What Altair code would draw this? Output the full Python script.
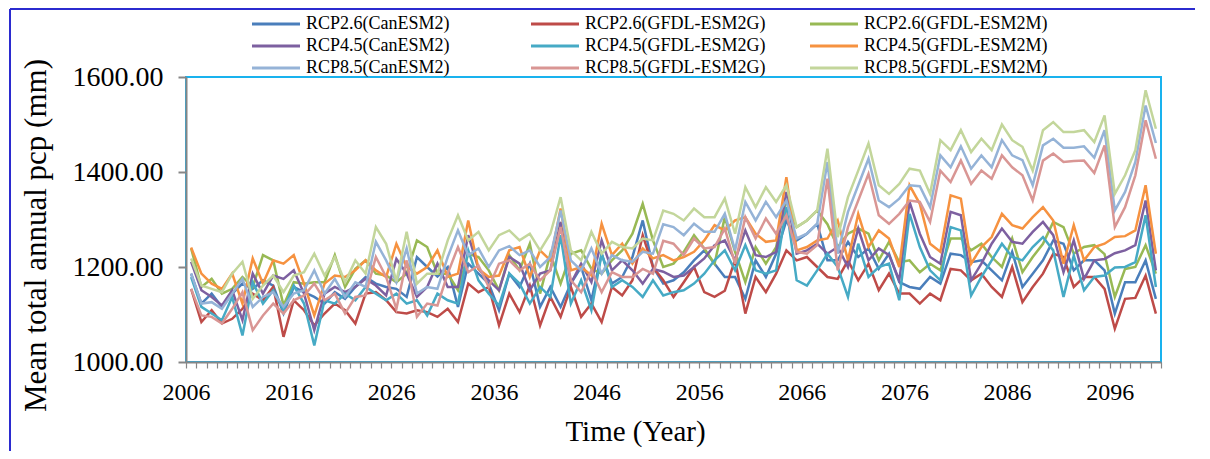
import altair as alt
import pandas as pd

years = list(range(2006, 2101))

series_names = [
    "RCP2.6(CanESM2)", "RCP2.6(GFDL-ESM2G)", "RCP2.6(GFDL-ESM2M)",
    "RCP4.5(CanESM2)", "RCP4.5(GFDL-ESM2G)", "RCP4.5(GFDL-ESM2M)",
    "RCP8.5(CanESM2)", "RCP8.5(GFDL-ESM2G)", "RCP8.5(GFDL-ESM2M)",
]
series_colors = [
    "#4A7EBB", "#BE4B48", "#98B954",
    "#7D60A0", "#46AAC5", "#F69240",
    "#95B3D7", "#D99694", "#C3D69B",
]

rcp26_canesm2 = [
    1186, 1123, 1144, 1116, 1144, 1165, 1154, 1172, 1161, 1102,
    1158, 1147, 1137, 1123, 1147, 1133, 1158, 1179, 1165, 1158,
    1154, 1137, 1221, 1200, 1180, 1200, 1116, 1207, 1186, 1165,
    1109, 1186, 1158, 1207, 1116, 1158, 1116, 1165, 1200, 1130,
    1228, 1165, 1179, 1221, 1298, 1200, 1165, 1172, 1189, 1214,
    1235, 1207, 1179, 1179, 1133, 1214, 1179, 1228, 1298, 1256,
    1270, 1291, 1214, 1214, 1253, 1221, 1239, 1196, 1228, 1168,
    1158, 1154, 1179, 1165, 1228, 1225, 1210, 1214, 1193, 1172,
    1232, 1158, 1186, 1214, 1256, 1249, 1193, 1214, 1214, 1193,
    1102, 1168, 1168, 1214, 1133,
]
rcp26_esm2g = [
    1154, 1084, 1109, 1081, 1091, 1112, 1144, 1130, 1158, 1053,
    1130, 1109, 1077, 1102, 1123, 1109, 1081, 1144, 1147, 1130,
    1105, 1102, 1109, 1105, 1095, 1112, 1084, 1165, 1147, 1158,
    1077, 1144, 1105, 1161, 1077, 1137, 1095, 1158, 1095, 1123,
    1084, 1158, 1140, 1172, 1267, 1200, 1172, 1137, 1168, 1200,
    1147, 1137, 1150, 1215, 1102, 1179, 1147, 1186, 1235, 1214,
    1221, 1200, 1179, 1175, 1214, 1172, 1207, 1151, 1186, 1144,
    1144, 1123, 1144, 1130, 1196, 1193, 1172, 1186, 1158, 1137,
    1200, 1126, 1158, 1186, 1228, 1221, 1158, 1179, 1179, 1154,
    1070, 1133, 1135, 1182, 1102,
]
rcp26_esm2m = [
    1239, 1158, 1175, 1144, 1154, 1179, 1158, 1225, 1214, 1119,
    1168, 1165, 1168, 1168, 1225, 1158, 1196, 1214, 1186, 1182,
    1168, 1186, 1256, 1242, 1186, 1186, 1151, 1228, 1221, 1193,
    1151, 1225, 1193, 1249, 1144, 1228, 1165, 1228, 1235, 1196,
    1186, 1214, 1235, 1270, 1333, 1256, 1200, 1207, 1232, 1267,
    1239, 1207, 1305, 1232, 1168, 1242, 1207, 1242, 1340, 1284,
    1298, 1319, 1290, 1242, 1270, 1281, 1270, 1214, 1253, 1210,
    1214, 1189, 1207, 1193, 1260, 1260, 1235, 1249, 1221, 1200,
    1260, 1189, 1221, 1249, 1295, 1284, 1228, 1242, 1246, 1227,
    1137, 1196, 1200, 1246, 1186,
]
rcp45_canesm2 = [
    1211, 1151, 1137, 1119, 1151, 1088, 1186, 1144, 1182, 1175,
    1193, 1144, 1067, 1144, 1158, 1147, 1158, 1175, 1161, 1140,
    1217, 1186, 1137, 1158, 1207, 1158, 1158, 1267, 1196, 1172,
    1151, 1221, 1207, 1151, 1186, 1193, 1295, 1165, 1207, 1168,
    1256, 1193, 1214, 1193, 1165, 1196, 1190, 1179, 1182, 1200,
    1218, 1246, 1256, 1214, 1277, 1225, 1221, 1232, 1358, 1228,
    1235, 1249, 1228, 1242, 1200, 1281, 1214, 1239, 1225, 1172,
    1337, 1270, 1221, 1207, 1316, 1309, 1172, 1207, 1249, 1281,
    1253, 1249, 1274, 1295, 1267, 1189, 1256, 1175, 1214, 1217,
    1229, 1235, 1246, 1340, 1193,
]
rcp45_esm2g = [
    1179, 1116, 1102, 1088, 1137, 1056, 1168, 1123, 1151, 1109,
    1161, 1123, 1035, 1130, 1123, 1144, 1130, 1158, 1144, 1130,
    1144, 1123, 1130, 1098, 1144, 1130, 1123, 1235, 1172, 1144,
    1119, 1186, 1165, 1123, 1158, 1137, 1267, 1123, 1172, 1109,
    1228, 1158, 1172, 1158, 1137, 1172, 1140, 1147, 1151, 1165,
    1186, 1214, 1235, 1193, 1246, 1193, 1186, 1193, 1326, 1172,
    1161, 1193, 1228, 1200, 1137, 1249, 1179, 1200, 1207, 1130,
    1312, 1242, 1193, 1172, 1284, 1277, 1140, 1179, 1214, 1249,
    1221, 1214, 1242, 1263, 1235, 1137, 1224, 1151, 1179, 1182,
    1199, 1200, 1210, 1309, 1158,
]
rcp45_esm2m = [
    1241, 1186, 1165, 1154, 1186, 1123, 1218, 1165, 1214, 1207,
    1225, 1165, 1098, 1165, 1182, 1179, 1193, 1214, 1193, 1179,
    1249, 1200, 1186, 1200, 1235, 1179, 1186, 1298, 1196, 1179,
    1182, 1235, 1242, 1179, 1235, 1214, 1323, 1193, 1200, 1182,
    1291, 1225, 1249, 1207, 1239, 1218, 1225, 1214, 1221, 1232,
    1256, 1288, 1277, 1298, 1305, 1270, 1253, 1256, 1389, 1235,
    1242, 1256, 1260, 1298, 1214, 1312, 1242, 1277, 1260, 1200,
    1372, 1333, 1249, 1232, 1351, 1344, 1207, 1242, 1263, 1312,
    1288, 1281, 1305, 1326, 1298, 1207, 1288, 1214, 1242, 1249,
    1263, 1265, 1277, 1372, 1228,
]
rcp85_canesm2 = [
    1186, 1123, 1126, 1112, 1144, 1175, 1116, 1137, 1147, 1116,
    1144, 1151, 1193, 1144, 1175, 1137, 1168, 1158, 1253, 1214,
    1168, 1239, 1144, 1158, 1154, 1221, 1277, 1225, 1239, 1200,
    1235, 1244, 1225, 1235, 1200, 1221, 1319, 1214, 1193, 1239,
    1186, 1225, 1214, 1211, 1232, 1228, 1290, 1284, 1267, 1291,
    1274, 1274, 1312, 1235, 1337, 1298, 1337, 1305, 1340, 1260,
    1270, 1291, 1421, 1228, 1316, 1372, 1428, 1340, 1326, 1344,
    1372, 1370, 1326, 1435, 1410, 1454, 1407, 1435, 1410, 1467,
    1435, 1425, 1372, 1456, 1470, 1451, 1451, 1454, 1430, 1488,
    1319, 1358, 1421, 1540, 1461,
]
rcp85_esm2g = [
    1154, 1098, 1095, 1081, 1112, 1147, 1067, 1098, 1123, 1102,
    1130, 1140, 1165, 1130, 1144, 1102, 1137, 1140, 1221, 1179,
    1112, 1214, 1095, 1123, 1119, 1186, 1242, 1189, 1203, 1158,
    1207, 1214, 1193, 1207, 1172, 1193, 1284, 1172, 1147, 1193,
    1147, 1189, 1179, 1179, 1196, 1186, 1255, 1249, 1225, 1260,
    1239, 1242, 1281, 1207, 1305, 1260, 1302, 1270, 1309, 1232,
    1228, 1246, 1386, 1193, 1284, 1340, 1396, 1309, 1291, 1312,
    1340, 1337, 1295, 1403, 1379, 1424, 1375, 1403, 1386, 1435,
    1410, 1393, 1340, 1424, 1439, 1421, 1423, 1424, 1398, 1456,
    1284, 1326, 1393, 1509, 1428,
]
rcp85_esm2m = [
    1218, 1161, 1154, 1147, 1186, 1211, 1133, 1161, 1182, 1147,
    1182, 1189, 1228, 1182, 1221, 1168, 1214, 1186, 1284, 1249,
    1170, 1274, 1165, 1186, 1186, 1256, 1309, 1256, 1274, 1235,
    1267, 1277, 1256, 1270, 1235, 1270, 1347, 1235, 1214, 1274,
    1228, 1253, 1242, 1239, 1260, 1256, 1319, 1312, 1298, 1323,
    1305, 1305, 1344, 1270, 1368, 1326, 1368, 1337, 1372, 1284,
    1298, 1319, 1449, 1263, 1347, 1403, 1460, 1372, 1354, 1375,
    1407, 1403, 1354, 1467, 1446, 1488, 1442, 1470, 1446, 1500,
    1467, 1453, 1403, 1488, 1505, 1484, 1484, 1488, 1463, 1519,
    1354, 1393, 1446, 1572, 1491,
]

y_ticks = [1000, 1200, 1400, 1600]

all_series = [
    rcp26_canesm2, rcp26_esm2g, rcp26_esm2m,
    rcp45_canesm2, rcp45_esm2g, rcp45_esm2m,
    rcp85_canesm2, rcp85_esm2g, rcp85_esm2m,
]

rows = []
for k, (name, vals) in enumerate(zip(series_names, all_series)):
    for yr, v in zip(years, vals):
        rows.append({"Year": yr, "Series": name, "Value": v, "k": k})
df = pd.DataFrame(rows)

FONT = "Liberation Serif"
tick_positions = [y - 0.5 for y in years] + [years[-1] + 0.5]

lines = alt.Chart(df).mark_line(strokeWidth=2.5, clip=True).encode(
    x=alt.X(
        "Year:Q",
        scale=alt.Scale(domain=[years[0] - 0.5, years[-1] + 0.5], nice=False, zero=False),
        axis=alt.Axis(
            values=tick_positions,
            labelExpr="((datum.value + 0.5 - 2006) % 10 == 0) ? format(datum.value + 0.5, 'd') : ''",
            labelOffset=0,
            labelOverlap=False,
            labelFlush=False,
            labelBound=False,
            labelFontSize=24,
            tickSize=6,
            tickWidth=1.2,
            labelPadding=12,
            titlePadding=13,
            titleFontSize=29,
            titleX=449,
        ),
        title="Time (Year)",
    ),
    y=alt.Y(
        "Value:Q",
        scale=alt.Scale(domain=[1000, 1600], nice=False, zero=False),
        axis=alt.Axis(
            values=y_ticks,
            format=".2f",
            labelFontSize=28,
            tickSize=8,
            tickWidth=2,
            labelPadding=15,
            titleX=-150,
            titleY=158,
            titleAngle=-90,
            titleAlign="center",
            titleBaseline="middle",
            titleFontSize=31,
        ),
        title="Mean total annual pcp (mm)",
    ),
    color=alt.Color(
        "Series:N",
        scale=alt.Scale(domain=series_names, range=series_colors),
        legend=alt.Legend(
            orient="none",
            direction="horizontal",
            legendX=81,
            legendY=-62,
            columns=3,
            title=None,
            symbolType="M-4,0H4",
            symbolSize=144,
            symbolStrokeWidth=3,
            labelFont=FONT,
            labelFontSize=18,
            labelColor="black",
            labelOffset=21,
            labelLimit=400,
            gridAlign="all",
            columnPadding=35,
            rowPadding=4,
            padding=0,
        ),
    ),
    order=alt.Order("k:Q"),
)

frame_df = pd.DataFrame({"a": [0]})
frame_left = alt.Chart(frame_df).mark_rule(color="#2B2BCF", strokeWidth=2).encode(
    x=alt.value(-176), y=alt.value(-68), y2=alt.value(420)
)
frame_top = alt.Chart(frame_df).mark_rule(color="#2B2BCF", strokeWidth=2).encode(
    x=alt.value(-176), x2=alt.value(1100), y=alt.value(-68)
)

chart = alt.layer(frame_left, frame_top, lines).properties(
    width=975,
    height=285,
    autosize="none",
    padding={"left": 178, "top": 69, "right": 34, "bottom": 89},
).configure_view(
    stroke="#19B2EE", strokeWidth=2
).configure_axis(
    grid=False,
    domainColor="#868686",
    domainWidth=2,
    tickColor="#868686",
    labelFont=FONT,
    labelColor="black",
    titleFont=FONT,
    titleFontWeight="normal",
    titleColor="black",
).configure_legend(
    labelFont=FONT
)

chart.save("out.html", embed_options={"renderer": "svg", "actions": False})
